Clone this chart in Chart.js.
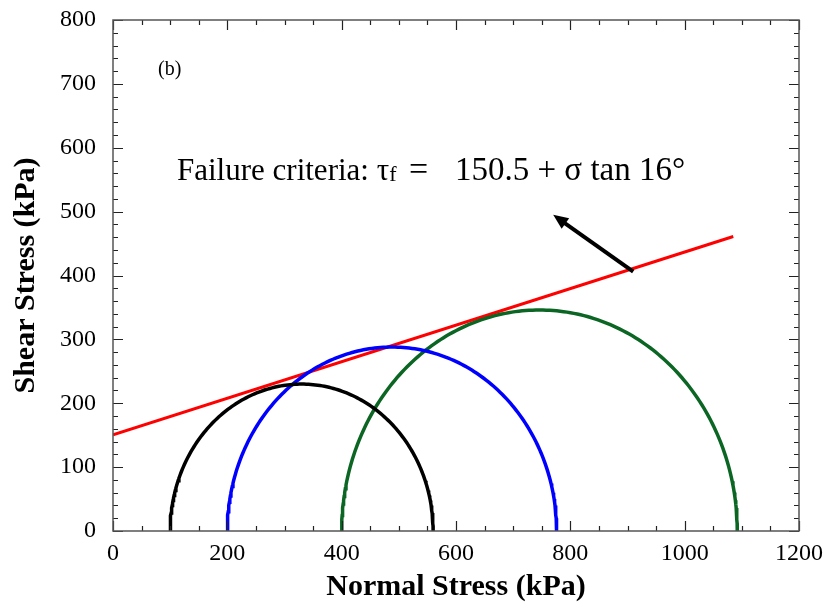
<!DOCTYPE html>
<html>
<head>
<meta charset="utf-8">
<script src="https://cdn.jsdelivr.net/npm/chart.js@4"></script>
<style>
  html, body { margin: 0; padding: 0; background: #fff; }
  #wrap { width: 826px; height: 605px; }
</style>
</head>
<body>
<div id="wrap"><canvas id="mohrChart"></canvas></div>
<script>
// Mohr circles: minor and major principal stresses (kPa)
const sigma3 = [100, 200, 400];
const sigma1 = [560, 776, 1092];
const circleColors = ["#000000", "#0000ff", "#0b6623"];

// failure envelope
const envelopeX = [0, 1085];
const envelopeY = [150.5, 461];

// arrow pointing at the equation
const arrowX = [910, 770];
const arrowY = [406, 495];

const xTicks = [0, 200, 400, 600, 800, 1000, 1200];
const yTicks = [0, 100, 200, 300, 400, 500, 600, 700, 800];

const serif = "'Liberation Serif', 'Times New Roman', serif";

// semicircle points from centre and radius
function semicircle(s3, s1) {
  const c = (s1 + s3) / 2;
  const r = (s1 - s3) / 2;
  const pts = [];
  for (let i = 0; i <= 180; i++) {
    const a = Math.PI - (i * Math.PI) / 180;
    pts.push({ x: c + r * Math.cos(a), y: r * Math.sin(a) });
  }
  return pts;
}

const datasets = sigma3.map((s3, i) => ({
  label: "circle " + (i + 1),
  data: semicircle(s3, sigma1[i]),
  borderColor: circleColors[i],
  borderWidth: 3.5,
  pointRadius: 0,
  showLine: true,
  fill: false,
}));

datasets.push({
  label: "envelope",
  data: envelopeX.map((x, i) => ({ x: x, y: envelopeY[i] })),
  borderColor: "#ff0000",
  borderWidth: 3,
  pointRadius: 0,
  showLine: true,
  fill: false,
});

// frame, inward ticks, arrow and notes
const decorations = {
  id: "decorations",
  afterDatasetsDraw(chart) {
    const { ctx, chartArea: a, scales } = chart;
    const xs = scales.x, ys = scales.y;
    ctx.save();

    // ticks
    ctx.strokeStyle = "#222";
    ctx.lineWidth = 1.2;
    ctx.beginPath();
    for (let v = 0; v <= 1200; v += 50) {
      const px = Math.round(xs.getPixelForValue(v)) + 0.5;
      const len = v % 200 === 0 ? 10 : 5;
      ctx.moveTo(px, a.bottom); ctx.lineTo(px, a.bottom - len);
      ctx.moveTo(px, a.top); ctx.lineTo(px, a.top + len);
    }
    for (let v = 0; v <= 800; v += 20) {
      const py = Math.round(ys.getPixelForValue(v)) + 0.5;
      const len = v % 100 === 0 ? 10 : 5;
      ctx.moveTo(a.left, py); ctx.lineTo(a.left + len, py);
      ctx.moveTo(a.right, py); ctx.lineTo(a.right - len, py);
    }
    ctx.stroke();

    // frame
    ctx.strokeStyle = "#555";
    ctx.lineWidth = 1.5;
    ctx.strokeRect(a.left, a.top, a.right - a.left, a.bottom - a.top);

    // arrow
    const x0 = xs.getPixelForValue(arrowX[0]), y0 = ys.getPixelForValue(arrowY[0]);
    const x1 = xs.getPixelForValue(arrowX[1]), y1 = ys.getPixelForValue(arrowY[1]);
    const ang = Math.atan2(y1 - y0, x1 - x0);
    const head = 15, half = 6.5;
    const bx = x1 - head * Math.cos(ang), by = y1 - head * Math.sin(ang);
    ctx.strokeStyle = "#000";
    ctx.fillStyle = "#000";
    ctx.lineWidth = 4;
    ctx.beginPath();
    ctx.moveTo(x0, y0);
    ctx.lineTo(bx + 3 * Math.cos(ang), by + 3 * Math.sin(ang));
    ctx.stroke();
    ctx.beginPath();
    ctx.moveTo(x1, y1);
    ctx.lineTo(bx + half * Math.sin(ang), by - half * Math.cos(ang));
    ctx.lineTo(bx - half * Math.sin(ang), by + half * Math.cos(ang));
    ctx.closePath();
    ctx.fill();

    // panel label
    ctx.fillStyle = "#000";
    ctx.textBaseline = "alphabetic";
    ctx.textAlign = "left";
    ctx.font = "20px " + serif;
    ctx.fillText("(b)", 158, 75);

    // equation
    ctx.font = "31px " + serif;
    let tx = 177;
    const base = 180;
    ctx.fillText("Failure criteria: τ", tx, base);
    tx += ctx.measureText("Failure criteria: τ").width;
    ctx.font = "22px " + serif;
    ctx.fillText("f", tx, base + 1);
    ctx.font = "34px " + serif;
    ctx.fillText("=", 409, base);
    ctx.font = "33px " + serif;
    ctx.fillText("150.5 + σ tan 16°", 455, base);

    ctx.restore();
  },
};

new Chart(document.getElementById("mohrChart").getContext("2d"), {
  type: "scatter",
  data: { datasets: datasets },
  options: {
    responsive: true,
    maintainAspectRatio: false,
    animation: false,
    layout: { padding: { top: 20, right: 27, left: 0, bottom: 0 } },
    plugins: {
      legend: { display: false },
      tooltip: { enabled: false },
    },
    scales: {
      x: {
        type: "linear",
        min: 0,
        max: 1200,
        afterFit: (scale) => {
          scale.height = 74;
          scale.paddingLeft = 0;
          scale.paddingRight = 0;
        },
        afterBuildTicks: (scale) => { scale.ticks = xTicks.map((v) => ({ value: v })); },
        grid: { display: false, drawTicks: false },
        border: { display: false },
        ticks: {
          autoSkip: false,
          maxRotation: 0,
          padding: 8,
          color: "#000",
          font: { family: serif, size: 24 },
          callback: (v) => String(v),
        },
        title: {
          display: true,
          text: "Normal Stress (kPa)",
          color: "#000",
          padding: { top: 0, bottom: 0 },
          font: { family: serif, size: 30, weight: "bold" },
        },
      },
      y: {
        type: "linear",
        min: 0,
        max: 800,
        afterFit: (scale) => {
          scale.width = 113;
          scale.paddingTop = 0;
          scale.paddingBottom = 0;
        },
        afterBuildTicks: (scale) => { scale.ticks = yTicks.map((v) => ({ value: v })); },
        grid: { display: false, drawTicks: false },
        border: { display: false },
        ticks: {
          autoSkip: false,
          padding: 17,
          color: "#000",
          font: { family: serif, size: 24 },
          callback: (v) => String(v),
        },
        title: {
          display: true,
          text: "Shear Stress (kPa)",
          color: "#000",
          padding: { top: 8, bottom: 0 },
          font: { family: serif, size: 30, weight: "bold" },
        },
      },
    },
  },
  plugins: [decorations],
});
</script>
</body>
</html>
